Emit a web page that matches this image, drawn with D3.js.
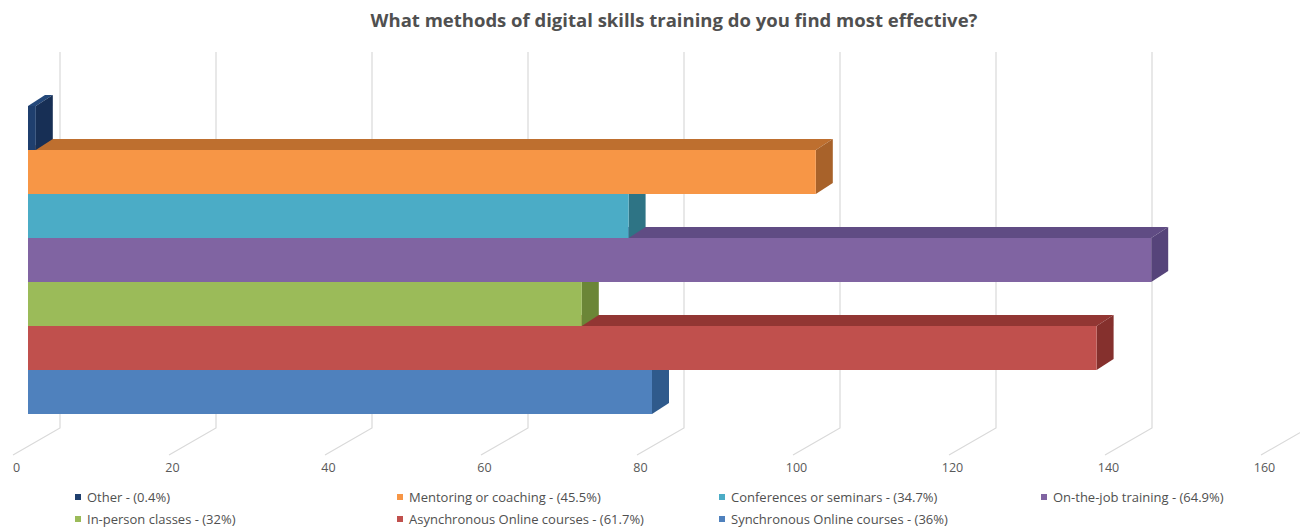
<!DOCTYPE html>
<html>
<head>
<meta charset="utf-8">
<script src="https://cdn.jsdelivr.net/npm/d3@7/dist/d3.min.js"></script>
<style>
  html, body { margin: 0; padding: 0; background: #ffffff; }
  svg { display: block; }
</style>
</head>
<body>
<svg id="chart" width="1300" height="527"></svg>
<script>
// ---- data (top to bottom, same as legend order) ----
const categories = [
  "Other - (0.4%)",
  "Mentoring or coaching - (45.5%)",
  "Conferences or seminars - (34.7%)",
  "On-the-job training - (64.9%)",
  "In-person classes - (32%)",
  "Asynchronous Online courses - (61.7%)",
  "Synchronous Online courses - (36%)"
];
const values = [1, 101, 77, 144, 71, 137, 80];
const frontColors = ["#1F3F6E", "#F79646", "#4BACC6", "#8064A2", "#9BBB59", "#C0504D", "#4F81BD"];
const topColors   = ["#24487A", "#BE6F2F", "#3B8EA5", "#604C84", "#7A9844", "#923633", "#3E6CA3"];
const sideColors  = ["#172F55", "#A8622A", "#2E7485", "#56447A", "#6B8637", "#85302D", "#2F5A8C"];
const tickValues = [0, 20, 40, 60, 80, 100, 120, 140, 160];
const title = "What methods of digital skills training do you find most effective?";

// ---- geometry ----
const svg = d3.select("#chart");
const x = d3.scaleLinear().domain([0, 160]).range([0, 1248]);
const y = d3.scaleBand().domain(categories).range([106, 414]).paddingInner(0).paddingOuter(0);

const backX0 = 60, wallTop = 52, wallBottom = 428;
const floorDX = -47, floorDY = 27;
const barX0 = 28;
const depthDX = 17, depthDY = -11;

// title
svg.append("text")
  .attr("x", 674).attr("y", 27)
  .attr("text-anchor", "middle")
  .attr("font-family", "'Open Sans', sans-serif")
  .attr("font-weight", "bold")
  .attr("font-size", 18.5)
  .attr("fill", "#505050")
  .text(title);

// gridlines: back wall + floor
const grid = svg.append("g").attr("stroke", "#d9d9d9").attr("stroke-width", 1.2).attr("fill", "none");
tickValues.forEach(t => {
  const bx = backX0 + x(t);
  grid.append("path")
    .attr("d", `M${bx},${wallTop}L${bx},${wallBottom}L${bx + floorDX},${wallBottom + floorDY}`);
});

// bars, drawn bottom first so upper bars overlap lower ones' top faces
const bars = svg.append("g");
const order = d3.range(categories.length).reverse();
order.forEach(i => {
  const c = categories[i];
  const y0 = y(c), y1 = y(c) + y.bandwidth();
  const xl = barX0 + x(0), xr = barX0 + x(values[i]);
  const g = bars.append("g");
  g.append("path")
    .attr("d", `M${xl},${y0}L${xl + depthDX},${y0 + depthDY}L${xr + depthDX},${y0 + depthDY}L${xr},${y0}Z`)
    .attr("fill", topColors[i]);
  g.append("path")
    .attr("d", `M${xr},${y0}L${xr + depthDX},${y0 + depthDY}L${xr + depthDX},${y1 + depthDY}L${xr},${y1}Z`)
    .attr("fill", sideColors[i]);
  g.append("rect")
    .attr("x", xl).attr("y", y0)
    .attr("width", xr - xl).attr("height", y1 - y0)
    .attr("fill", frontColors[i]);
});

// axis labels
const axis = d3.axisBottom(x).tickValues(tickValues).tickSize(0).tickPadding(0);
const ag = svg.append("g").attr("transform", "translate(16,463)").call(axis);
ag.select(".domain").remove();
ag.selectAll("text")
  .attr("font-family", "'Open Sans', sans-serif")
  .attr("font-size", 12.5)
  .attr("fill", "#595959");

// legend
const legend = svg.append("g")
  .attr("font-family", "'Open Sans', sans-serif")
  .attr("font-size", 13)
  .attr("fill", "#505050");
const legCol = d3.scaleLinear().domain([0, 1]).range([78, 400]);
const legRow = d3.scaleLinear().domain([0, 1]).range([497, 519]);
categories.forEach((c, i) => {
  const col = i % 4, row = Math.floor(i / 4);
  const lx = legCol(col), ly = legRow(row);
  legend.append("rect").attr("x", lx - 3).attr("y", ly - 3).attr("width", 6).attr("height", 6).attr("fill", frontColors[i]);
  legend.append("text").attr("x", lx + 9).attr("y", ly).attr("dy", "0.35em").text(c);
});
</script>
</body>
</html>
